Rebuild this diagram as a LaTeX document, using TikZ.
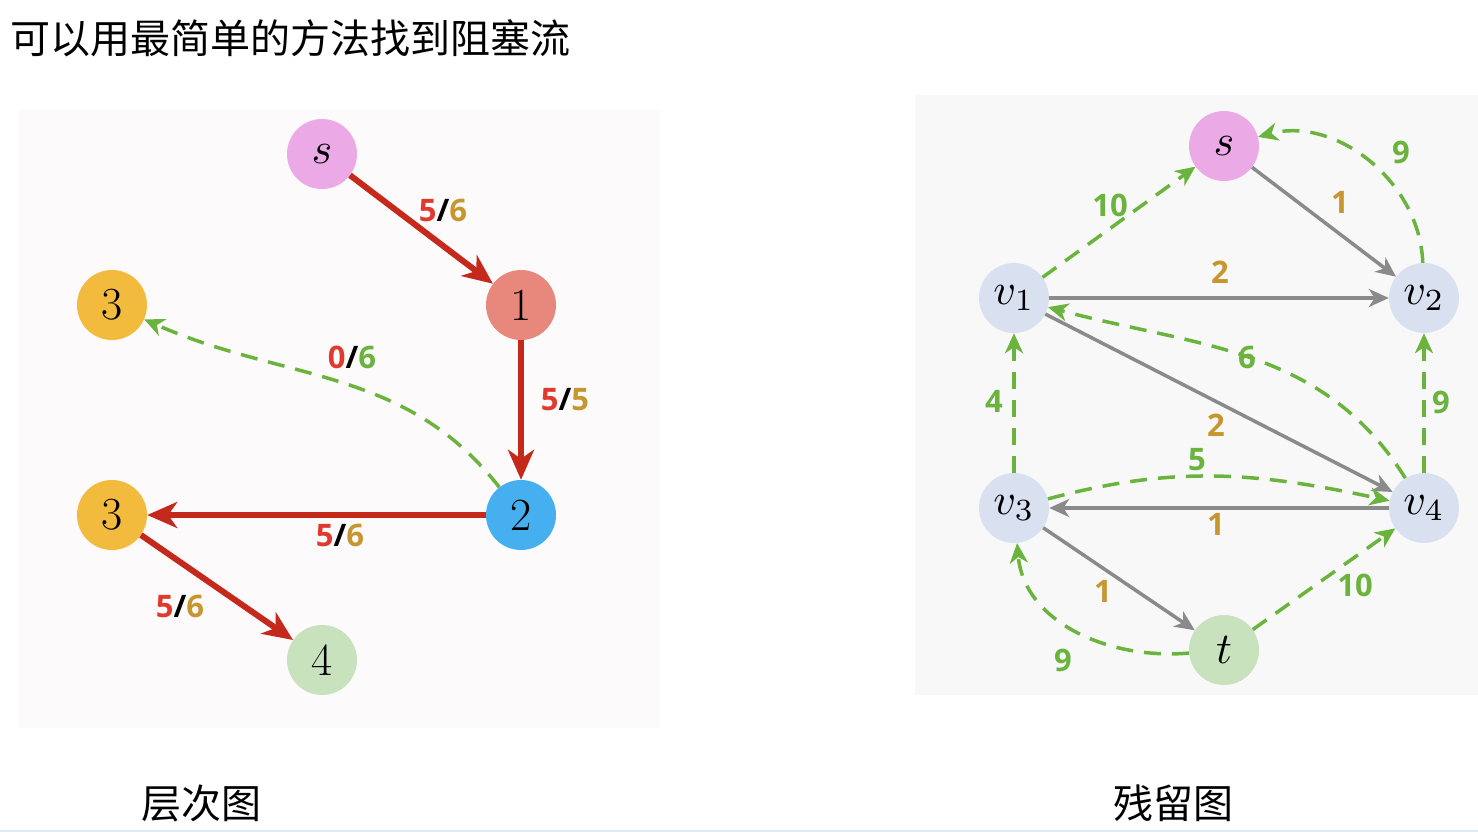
\documentclass[tikz,border=0pt]{standalone}
\usepackage{fontspec}
\usetikzlibrary{arrows.meta}
\newfontfamily\cjk{Noto Sans CJK SC}
\newfontfamily\lab{Open Sans}
\definecolor{leftbg}{HTML}{FCFAFA}
\definecolor{rightbg}{HTML}{F8F8F9}
\definecolor{lineblue}{HTML}{DDEBF7}
\definecolor{cpink}{HTML}{EBAAE6}
\definecolor{csalmon}{HTML}{E8877B}
\definecolor{corange}{HTML}{F3BB3E}
\definecolor{cblue}{HTML}{45AFF0}
\definecolor{cgreenn}{HTML}{C7E2BD}
\definecolor{cvnode}{HTML}{D9E1F1}
\definecolor{redge}{HTML}{C4291C}
\definecolor{rtext}{HTML}{E03A2E}
\definecolor{gold}{HTML}{C8962E}
\definecolor{grn}{HTML}{6AB43E}
\definecolor{gry}{HTML}{8A8A8A}
\newcommand{\nodemath}[1]{\scalebox{4.4}{\fontsize{10}{12}\selectfont$#1$}}
\tikzset{
  vnode/.style={circle,minimum size=70pt,inner sep=0pt,font=\fontsize{46}{46}\selectfont},
  rededge/.style={draw=redge,line width=6pt,-{Stealth[length=30pt,width=26pt,inset=9pt]}},
  grayedge/.style={draw=gry,line width=3.5pt,-{Stealth[length=20pt,width=18pt,inset=6pt]}},
  grnedge/.style={draw=grn,line width=3.5pt,dash pattern=on 17pt off 11pt,-{Stealth[length=20pt,width=18pt,inset=6pt]}},
  lbl/.style={font=\lab\bfseries\fontsize{31}{31}\selectfont,inner sep=1pt},
  cjktext/.style={font=\cjk\fontsize{40}{40}\selectfont,inner sep=0pt}
}
\begin{document}
\begin{tikzpicture}[x=1pt,y=1pt]
\useasboundingbox (0,0) rectangle (1478,-833);
\fill[white] (0,0) rectangle (1478,-833);
\fill[leftbg] (18,-110) rectangle (660,-728);
\fill[rightbg] (915,-95) rectangle (1478,-695);
\draw[lineblue,line width=2pt] (0,-831) -- (1478,-831);

\node[cjktext,anchor=west] (title) at (10,-38) {可以用最简单的方法找到阻塞流};
\node[cjktext] (capL) at (201,-803) {层次图};
\node[cjktext] (capR) at (1173,-803) {残留图};

% left: level graph
\node[vnode,fill=cpink] (ls) at (322,-154) {\nodemath{s}};
\node[vnode,fill=csalmon] (l1) at (521,-305) {1};
\node[vnode,fill=corange] (l3a) at (112,-305) {3};
\node[vnode,fill=cblue] (l2) at (521,-515) {2};
\node[vnode,fill=corange] (l3b) at (112,-515) {3};
\node[vnode,fill=cgreenn] (l4) at (322,-660) {4};

\draw[rededge] (ls) -- (l1);
\draw[rededge] (l1) -- (l2);
\draw[rededge] (l2) -- (l3b);
\draw[rededge] (l3b) -- (l4);
\draw[grnedge] (l2) to[out=128,in=-24] (l3a);

\node[lbl] (e1) at (443,-210) {\textcolor{rtext}{5}\textcolor{black}{/}\textcolor{gold}{6}};
\node[lbl] (e2) at (565,-400) {\textcolor{rtext}{5}\textcolor{black}{/}\textcolor{gold}{5}};
\node[lbl] (e3) at (340,-535) {\textcolor{rtext}{5}\textcolor{black}{/}\textcolor{gold}{6}};
\node[lbl] (e4) at (180,-606) {\textcolor{rtext}{5}\textcolor{black}{/}\textcolor{gold}{6}};
\node[lbl] (e5) at (352,-357) {\textcolor{rtext}{0}\textcolor{black}{/}\textcolor{grn}{6}};

% right: residual graph
\node[vnode,fill=cpink] (rs) at (1224,-146) {\nodemath{s}};
\node[vnode,fill=cvnode] (v1) at (1014,-298) {\nodemath{v_1}};
\node[vnode,fill=cvnode] (v2) at (1424,-298) {\nodemath{v_2}};
\node[vnode,fill=cvnode] (v3) at (1014,-508) {\nodemath{v_3}};
\node[vnode,fill=cvnode] (v4) at (1424,-508) {\nodemath{v_4}};
\node[vnode,fill=cgreenn] (rt) at (1224,-650) {\nodemath{t}};

\draw[grayedge] (rs) -- (v2);
\draw[grayedge] (v1) -- (v2);
\draw[grayedge] (v1) -- (v4);
\draw[grayedge] (v4) -- (v3);
\draw[grayedge] (v3) -- (rt);

\draw[grnedge] (v1) -- (rs);
\draw[grnedge] (v2) to[out=92,in=15] (rs);
\draw[grnedge] (v4) to[out=122,in=-15] (v1);
\draw[grnedge] (v3) -- (v1);
\draw[grnedge] (v4) -- (v2);
\draw[grnedge] (v3) to[out=15,in=168] (v4);
\draw[grnedge] (rt) to[out=185,in=-85] (v3);
\draw[grnedge] (rt) -- (v4);

\node[lbl,text=gold] (r1) at (1340,-202) {1};
\node[lbl,text=gold] (r2) at (1220,-272) {2};
\node[lbl,text=gold] (r3) at (1216,-425) {2};
\node[lbl,text=gold] (r4) at (1216,-524) {1};
\node[lbl,text=gold] (r5) at (1103,-591) {1};
\node[lbl,text=grn] (g1) at (1110,-205) {10};
\node[lbl,text=grn] (g2) at (1401,-152) {9};
\node[lbl,text=grn] (g3) at (1247,-357) {6};
\node[lbl,text=grn] (g4) at (994,-401) {4};
\node[lbl,text=grn] (g5) at (1441,-402) {9};
\node[lbl,text=grn] (g6) at (1197,-460) {5};
\node[lbl,text=grn] (g7) at (1063,-660) {9};
\node[lbl,text=grn] (g8) at (1355,-585) {10};
\end{tikzpicture}
\end{document}
